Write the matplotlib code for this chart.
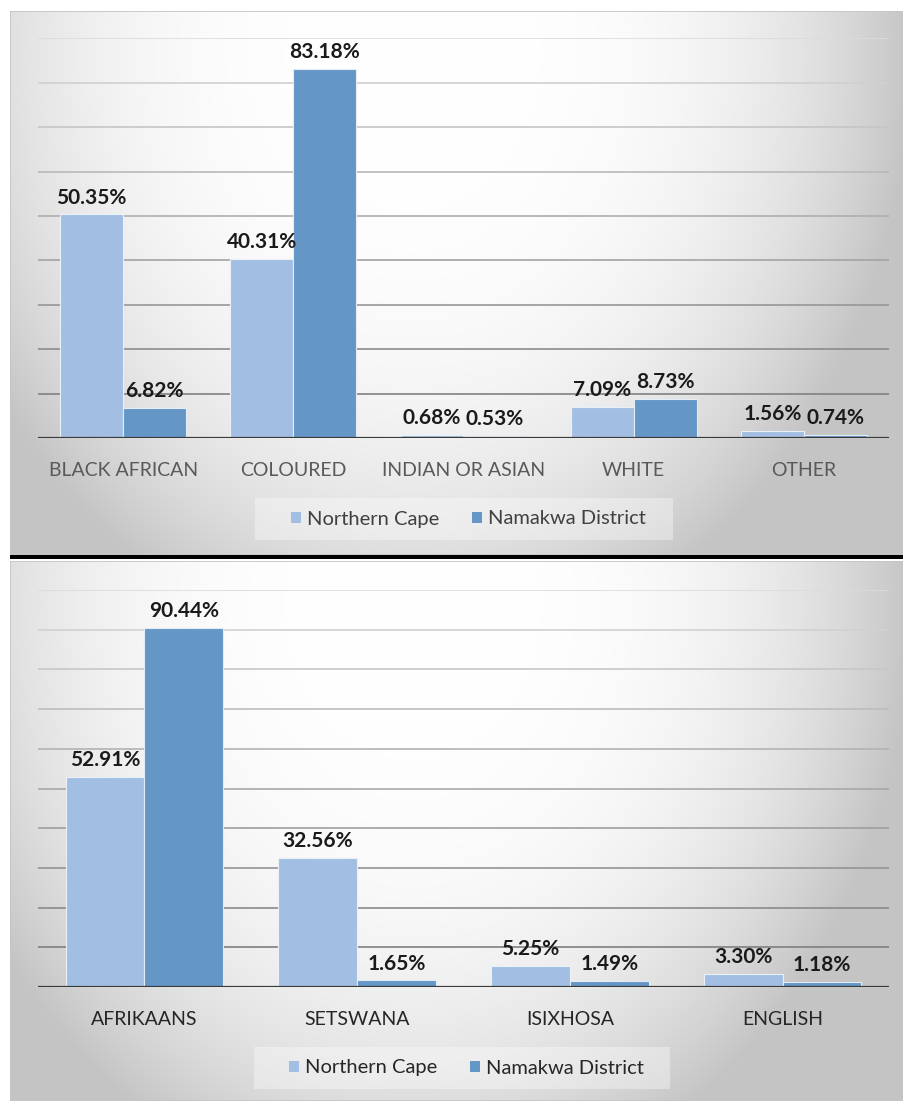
import numpy as np
import matplotlib.pyplot as plt
from matplotlib.patches import Rectangle, Patch

plt.rcParams['font.family'] = ['Lato', 'DejaVu Sans']

# population group
groups = ['BLACK AFRICAN', 'COLOURED', 'INDIAN OR ASIAN', 'WHITE', 'OTHER']
groups_nc = [50.35, 40.31, 0.68, 7.09, 1.56]
groups_nd = [6.82, 83.18, 0.53, 8.73, 0.74]

# language
languages = ['AFRIKAANS', 'SETSWANA', 'ISIXHOSA', 'ENGLISH']
lang_nc = [52.91, 32.56, 5.25, 3.30]
lang_nd = [90.44, 1.65, 1.49, 1.18]

series_names = ['Northern Cape', 'Namakwa District']
c_light = '#A2BFE3'
c_dark = '#6496C6'

W, H = 904, 1101
fig = plt.figure(figsize=(W / 100, H / 100), dpi=100)


def px_rect(x0, y0, x1, y1):
    # pixel box (top-left origin) -> figure fraction rect
    return [x0 / W, 1 - y1 / H, (x1 - x0) / W, (y1 - y0) / H]


def panel_background(x0, y0, x1, y1):
    bg = fig.add_axes(px_rect(x0, y0, x1, y1), zorder=0)
    w, h = int(x1 - x0), int(y1 - y0)
    u = np.linspace(0, 1, w)[None, :]
    v = np.linspace(0, 1, h)[:, None]
    r = np.sqrt(((u - 0.45) / 0.55) ** 2 + ((v - 0.08) / 1.1) ** 2)
    val = np.clip(1.0 - 0.22 * r ** 3, 0.77, 1.0)
    bg.imshow(np.dstack([val] * 3), aspect='auto', extent=(0, 1, 0, 1))
    bg.add_patch(Rectangle((0, 0), 1, 1, transform=bg.transAxes, fill=False,
                           edgecolor='#C4C4C4', linewidth=1.2))
    bg.axis('off')


def bar_panel(rect, cats, nc, nd, ymax, cat_color, label_color, legend_box, text_color):
    ax = fig.add_axes(rect, zorder=2)
    ax.patch.set_alpha(0)
    x = np.arange(len(cats))
    w = 0.37
    b1 = ax.bar(x - w / 2, nc, w, color=c_light, edgecolor='#EAF0F8', linewidth=0.8, zorder=3)
    b2 = ax.bar(x + w / 2, nd, w, color=c_dark, edgecolor='#E4ECF5', linewidth=0.8, zorder=3)
    for bars, vals in ((b1, nc), (b2, nd)):
        for rect_, v in zip(bars, vals):
            ax.annotate(f'{v:.2f}%', (rect_.get_x() + rect_.get_width() / 2, v),
                        xytext=(0, 5), textcoords='offset points', ha='center', va='bottom',
                        fontsize=15, fontweight='bold', color=label_color, zorder=4)
    ticks = np.arange(10, ymax + 1, 10)
    for t in ticks:
        g = 0.86 - 0.40 * (1 - t / ymax)
        ax.axhline(t, color=(g, g, g), linewidth=1.2, zorder=1)
    ax.axhline(0, color='#3A3A3A', linewidth=2.3, zorder=5)
    ax.set_xlim(-0.5, len(cats) - 0.5)
    ax.set_ylim(0, ymax)
    ax.set_yticks([])
    ax.set_xticks(x)
    ax.set_xticklabels(cats, fontsize=14, color=cat_color)
    ax.tick_params(axis='x', length=0, pad=17)
    for s in ax.spines.values():
        s.set_visible(False)

    # legend panel: pale box with the entries on top
    lx0, ly0, lx1, ly1 = legend_box
    fig.add_artist(Rectangle((lx0 / W, 1 - ly1 / H), (lx1 - lx0) / W, (ly1 - ly0) / H,
                             transform=fig.transFigure, facecolor='white', alpha=0.35,
                             edgecolor='none', zorder=2))
    handles = [Patch(facecolor=c_light, edgecolor='none'), Patch(facecolor=c_dark, edgecolor='none')]
    leg = fig.legend(handles, series_names, loc='center',
                     bbox_to_anchor=((lx0 + lx1) / 2 / W + 0.005, 1 - (ly0 + ly1) / 2 / H),
                     ncol=2, fontsize=14.5, frameon=False,
                     handlelength=0.5, handleheight=0.5, handletextpad=0.3,
                     columnspacing=1.6, borderpad=0, borderaxespad=0)
    leg.set_zorder(3)
    for t in leg.get_texts():
        t.set_color(text_color)
    return ax


panel_background(10, 11, 904, 555)
panel_background(10, 561, 904, 1101)

# black divider between the two charts
fig.add_artist(Rectangle((10 / W, 1 - 559 / H), 1, 3.5 / H, transform=fig.transFigure,
                         facecolor='black', edgecolor='none', zorder=6))

bar_panel(px_rect(38, 38.4, 889, 438), groups, groups_nc, groups_nd, 90,
          '#595959', '#1A1A1A', (255, 498, 673, 540), '#404040')
bar_panel(px_rect(38, 590, 889, 987), languages, lang_nc, lang_nd, 100,
          '#262626', '#1A1A1A', (254, 1047, 670, 1089), '#262626')

fig.savefig('out.png', dpi=100)
